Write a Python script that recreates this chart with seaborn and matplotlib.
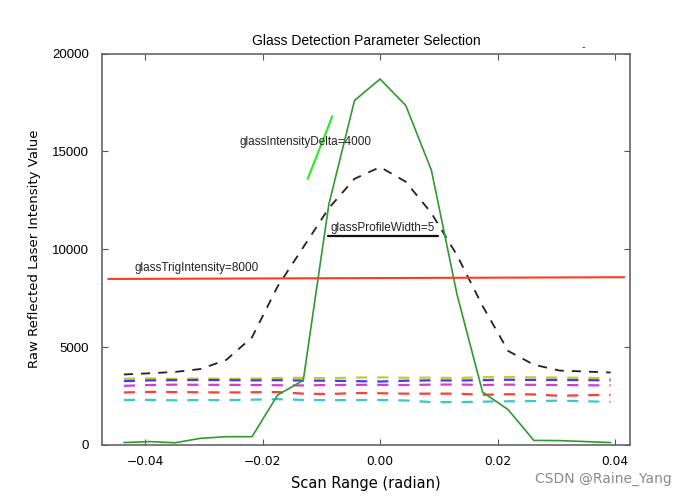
import numpy as np
import pandas as pd
import matplotlib
matplotlib.use("Agg")
import matplotlib.pyplot as plt
import seaborn as sns

# scan angle in 0.25 degree steps, expressed in radians
scan_deg = [-2.5, -2.25, -2.0, -1.75, -1.5, -1.25, -1.0, -0.75, -0.5, -0.25,
            0.0, 0.25, 0.5, 0.75, 1.0, 1.25, 1.5, 1.75, 2.0, 2.25]
scan = np.deg2rad(scan_deg)

glass = [120, 170, 110, 340, 420, 420, 2550, 3300, 12300, 17600,
         18700, 17350, 14050, 7700, 2700, 1800, 230, 220, 170, 120]
mean_profile = [3600, 3660, 3730, 3880, 4350, 5500, 8100, 10100, 12100, 13600,
                14200, 13450, 11850, 9700, 7100, 4800, 4100, 3800, 3750, 3700]
yellow_vals = [3380, 3400, 3380, 3390, 3380, 3390, 3420, 3430, 3410, 3440,
               3450, 3430, 3440, 3420, 3460, 3470, 3450, 3440, 3430, 3400]
blue_vals = [3260, 3300, 3310, 3320, 3310, 3300, 3310, 3290, 3280, 3260,
             3240, 3280, 3300, 3290, 3310, 3330, 3320, 3320, 3310, 3300]
magenta_vals = [3020, 3060, 3080, 3070, 3070, 3060, 3050, 3040, 3060, 3070,
                3070, 3060, 3080, 3090, 3060, 3080, 3070, 3060, 3050, 3040]
red_vals = [2680, 2710, 2700, 2690, 2680, 2690, 2700, 2620, 2600, 2650,
            2640, 2620, 2620, 2620, 2560, 2590, 2580, 2510, 2540, 2560]
cyan_vals = [2300, 2300, 2280, 2290, 2290, 2310, 2340, 2300, 2290, 2290,
             2300, 2270, 2190, 2190, 2210, 2230, 2240, 2260, 2230, 2200]

# parameter marker lines
trig_x = [-0.0463, 0.0416]
trig_y = [8480, 8570]
delta_x = [-0.01233, -0.00813]
delta_y = [13600, 16800]
width_x = [-0.00892, 0.00994]
width_y = [10690, 10690]

xticks = [-0.04, -0.02, 0.00, 0.02, 0.04]
yticks = [0, 5000, 10000, 15000, 20000]

sns.set_style("ticks", {"xtick.direction": "in", "ytick.direction": "in"})
plt.rcParams["font.family"] = ["DejaVu Sans"]

fig = plt.figure(figsize=(6.88, 4.96), dpi=100)
ax = fig.add_axes([0.148, 0.103, 0.768, 0.789])

dashed = [
    (mean_profile, "#222222", 1.3),
    (yellow_vals, "#c8c832", 1.6),
    (blue_vals, "#3c3cff", 1.6),
    (magenta_vals, "#d23cd2", 1.6),
    (red_vals, "#ff3c3c", 1.6),
    (cyan_vals, "#3cc8c8", 1.6),
]
for vals, col, lw in dashed:
    sns.lineplot(x=scan, y=vals, color=col, ax=ax, lw=lw,
                 linestyle=(0, (5, 4.5)))

sns.lineplot(x=scan, y=glass, color="#2f9a2f", ax=ax, lw=1.2)

ax.plot(trig_x, trig_y, color="#ff3b22", lw=1.5)
ax.plot(delta_x, delta_y, color="#22ee22", lw=1.5)
ax.plot(width_x, width_y, color="#111111", lw=1.6)

lab = dict(family=["Liberation Sans", "DejaVu Sans"], fontsize=8.5, color="#222222")
ax.text(-0.0418, 8750, "glassTrigIntensity=8000", va="bottom", **lab)
ax.text(-0.0239, 15480, "glassIntensityDelta=4000", va="center", **lab)
ax.text(-0.0085, 10760, "glassProfileWidth=5", va="bottom", **lab)
ax.text(0.0346, 20050, "-", fontsize=7, ha="center", va="bottom", clip_on=False)

ax.set_xlim(-0.0474, 0.0426)
ax.set_ylim(0, 20000)
ax.set_xticks(xticks)
ax.set_yticks(yticks)
ax.set_yticklabels([str(v) for v in yticks], family=["Liberation Sans"], fontsize=9.5)
ax.tick_params(axis="x", labelsize=8.8, pad=7)
ax.tick_params(axis="y", pad=9)
ax.tick_params(top=True, right=True, length=4, width=0.8, color="#555555",
               labelcolor="black")
for sp in ax.spines.values():
    sp.set_visible(True)
    sp.set_color("#666666")
    sp.set_linewidth(1.2)

ax.set_title("Glass Detection Parameter Selection", family=["Liberation Sans"],
             fontsize=10, pad=6, color="black")
ax.set_xlabel("Scan Range (radian)", fontsize=10.5, labelpad=6, color="black")
ax.set_ylabel("Raw Reflected Laser Intensity Value", fontsize=9.5, labelpad=8,
              color="black")

fig.text(0.977, 0.035, "CSDN @Raine_Yang", ha="right", va="center",
         fontsize=10, color="#8a8a8a")

fig.savefig("out.png", dpi=100)
